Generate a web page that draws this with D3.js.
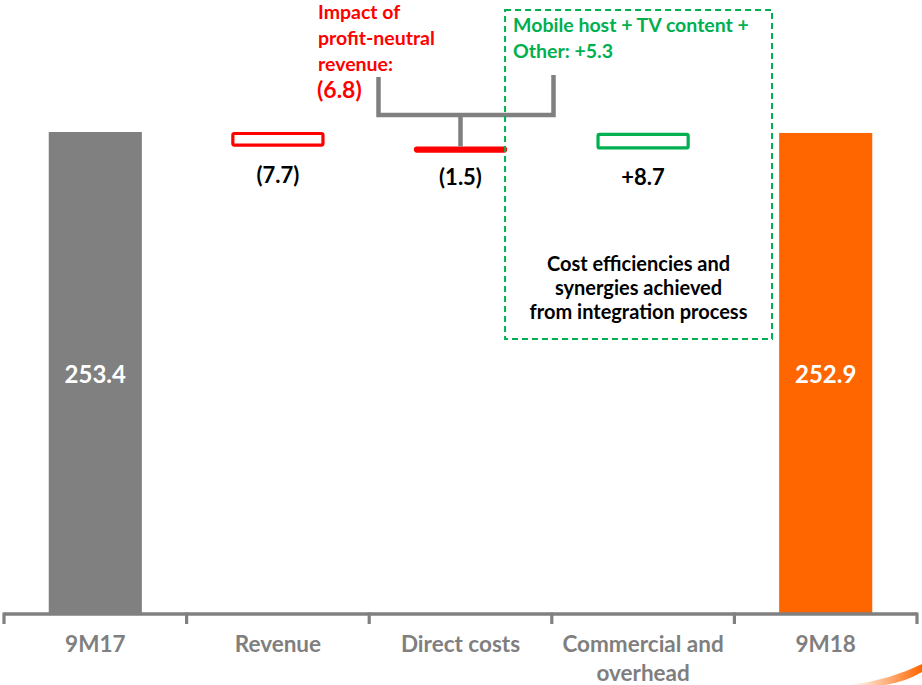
<!DOCTYPE html>
<html>
<head>
<meta charset="utf-8">
<script src="https://cdn.jsdelivr.net/npm/d3@7"></script>
<style>
  body { margin: 0; background: #fff; }
  svg { display: block; font-family: Lato, "Open Sans", sans-serif; font-weight: bold; }
</style>
</head>
<body>
<div id="chart"></div>
<script>
(function() {

  // waterfall data
  var categories = ["9M17", "Revenue", "Direct costs", "Commercial and overhead", "9M18"];
  var steps = [253.4, -7.7, -1.5, 8.7, 252.9];
  var kinds = ["total", "delta", "delta", "delta", "total"];
  var valueLabels = ["253.4", "(7.7)", "(1.5)", "+8.7", "252.9"];
  var categoryLines = [["9M17"], ["Revenue"], ["Direct costs"], ["Commercial and", "overhead"], ["9M18"]];

  var redNote = ["Impact of", "profit-neutral", "revenue:"];
  var redNoteValue = "(6.8)";
  var greenNote = ["Mobile host + TV content +", "Other: +5.3"];
  var boxNote = ["Cost efficiencies and", "synergies achieved", "from integration process"];

  var width = 922, height = 685;
  var grey = "#808080", orange = "#ff6600", red = "#ff0000", green = "#00b050";

  var svg = d3.select("#chart").append("svg")
    .attr("width", width)
    .attr("height", height);

  var x = d3.scaleBand()
    .domain(categories)
    .range([4, 917])
    .paddingInner(0.49)
    .paddingOuter(0.245);

  var y = d3.scaleLinear()
    .domain([0, 253.4])
    .range([613, 132]);

  // running totals for the floating bars
  var bars = [];
  var run = 0;
  for (var i = 0; i < categories.length; i++) {
    var y0, y1;
    if (kinds[i] === "total") {
      y0 = 0; y1 = steps[i]; run = steps[i];
    } else {
      y0 = run; y1 = run + steps[i]; run = y1;
    }
    bars.push({cat: categories[i], lo: Math.min(y0, y1), hi: Math.max(y0, y1),
      delta: steps[i], kind: kinds[i], label: valueLabels[i], idx: i});
  }

  var bw = x.bandwidth();

  // totals
  var totals = bars.filter(function(d) { return d.kind === "total"; });
  svg.selectAll("rect.total")
    .data(totals)
    .enter().append("rect")
    .attr("class", "total")
    .attr("x", function(d) { return x(d.cat); })
    .attr("y", function(d) { return y(d.hi); })
    .attr("width", bw)
    .attr("height", function(d) { return y(d.lo) - y(d.hi); })
    .attr("fill", function(d) { return d.idx === 0 ? grey : orange; });

  svg.selectAll("text.total")
    .data(totals)
    .enter().append("text")
    .attr("x", function(d) { return x(d.cat) + bw / 2; })
    .attr("y", function(d) { return (y(d.lo) + y(d.hi)) / 2 + 10; })
    .attr("text-anchor", "middle")
    .attr("fill", "#fff")
    .style("font-size", "24px")
    .text(function(d) { return d.label; });

  // deltas: outlined boxes, the small one as a solid bar
  var deltas = bars.filter(function(d) { return d.kind === "delta"; });
  svg.selectAll("rect.delta")
    .data(deltas)
    .enter().append("rect")
    .attr("class", "delta")
    .attr("x", function(d) { return x(d.cat) + 1.5; })
    .attr("y", function(d) { return y(d.hi) + 1.5; })
    .attr("width", bw - 3)
    .attr("height", function(d) { return Math.max(y(d.lo) - y(d.hi) - 3, 3); })
    .attr("rx", 1.5)
    .attr("fill", function(d) { return Math.abs(d.delta) < 2 ? red : "#fff"; })
    .attr("stroke", function(d) { return d.delta < 0 ? red : green; })
    .attr("stroke-width", 3.2);

  svg.selectAll("text.delta")
    .data(deltas)
    .enter().append("text")
    .attr("x", function(d) { return x(d.cat) + bw / 2; })
    .attr("y", function(d) { return y(d.lo) + 36; })
    .attr("text-anchor", "middle")
    .attr("fill", "#000")
    .style("font-size", "22px")
    .text(function(d) { return d.label; });

  // axis line with ticks at band boundaries
  var axisY = 614;
  var g = svg.append("g");
  g.append("line")
    .attr("x1", x.range()[0]).attr("x2", x.range()[1])
    .attr("y1", axisY).attr("y2", axisY)
    .attr("stroke", grey).attr("stroke-width", 3.5);
  var bounds = d3.range(categories.length + 1).map(function(k) {
    return x.range()[0] + k * x.step();
  });
  g.selectAll("line.tick")
    .data(bounds)
    .enter().append("line")
    .attr("class", "tick")
    .attr("x1", function(d) { return d; }).attr("x2", function(d) { return d; })
    .attr("y1", axisY - 1.5).attr("y2", axisY + 10)
    .attr("stroke", grey).attr("stroke-width", 3.2);

  var cl = g.selectAll("text.cat")
    .data(categories)
    .enter().append("text")
    .attr("class", "cat")
    .attr("text-anchor", "middle")
    .attr("fill", "#7f7f7f")
    .style("font-size", "22.5px");
  cl.selectAll("tspan")
    .data(function(d, i) { return categoryLines[i].map(function(t) { return {t: t, c: d}; }); })
    .enter().append("tspan")
    .attr("x", function(d) { return x(d.c) + bw / 2; })
    .attr("y", function(d, k) { return 652 + k * 29; })
    .text(function(d) { return d.t; });

  // bracket over revenue / direct costs / commercial
  var cx = x("Direct costs") + bw / 2;
  var bracketY = 115;
  var bl = cx - 82, br = cx + 93;
  var bracket = d3.path();
  bracket.moveTo(bl, 77); bracket.lineTo(bl, bracketY); bracket.lineTo(br, bracketY); bracket.lineTo(br, 75);
  bracket.moveTo(cx, bracketY); bracket.lineTo(cx, y(bars[1].lo));
  svg.append("path")
    .attr("d", bracket.toString())
    .attr("fill", "none")
    .attr("stroke", grey)
    .attr("stroke-width", 4.5);

  // red note
  var rn = svg.append("text")
    .attr("fill", red)
    .style("font-size", "19.5px");
  rn.selectAll("tspan")
    .data(redNote)
    .enter().append("tspan")
    .attr("x", 318)
    .attr("y", function(d, k) { return 19 + k * 26; })
    .text(function(d) { return d; });
  svg.append("text")
    .attr("x", 317).attr("y", 98)
    .attr("fill", red)
    .style("font-size", "23px")
    .text(redNoteValue);

  // green dashed box
  var boxL = x("Direct costs") + bw - 2;
  var boxR = x("Commercial and overhead") + x.step() * 0.95 + 2;
  svg.append("rect")
    .attr("x", boxL).attr("y", 10)
    .attr("width", boxR - boxL).attr("height", 329)
    .attr("fill", "none")
    .attr("stroke", green)
    .attr("stroke-width", 2)
    .attr("stroke-dasharray", "6,4");

  var gn = svg.append("text")
    .attr("fill", green)
    .style("font-size", "19.5px");
  gn.selectAll("tspan")
    .data(greenNote)
    .enter().append("tspan")
    .attr("x", boxL + 8)
    .attr("y", function(d, k) { return 32 + k * 26; })
    .text(function(d) { return d; });

  var bn = svg.append("text")
    .attr("fill", "#000")
    .attr("text-anchor", "middle")
    .style("font-size", "20px");
  bn.selectAll("tspan")
    .data(boxNote)
    .enter().append("tspan")
    .attr("x", (boxL + boxR) / 2)
    .attr("y", function(d, k) { return 271 + k * 24; })
    .text(function(d) { return d; });

  // decorative swoosh bottom-right
  var defs = svg.append("defs");
  var grad = defs.append("linearGradient").attr("id", "swoosh")
    .attr("x1", "0%").attr("x2", "100%");
  grad.append("stop").attr("offset", "0%").attr("stop-color", "#fff");
  grad.append("stop").attr("offset", "100%").attr("stop-color", orange);
  svg.append("path")
    .attr("d", "M850,685 Q890,680 922,664 L922,672 Q905,682 885,685 Z")
    .attr("fill", "url(#swoosh)");

})();
</script>
</body>
</html>
